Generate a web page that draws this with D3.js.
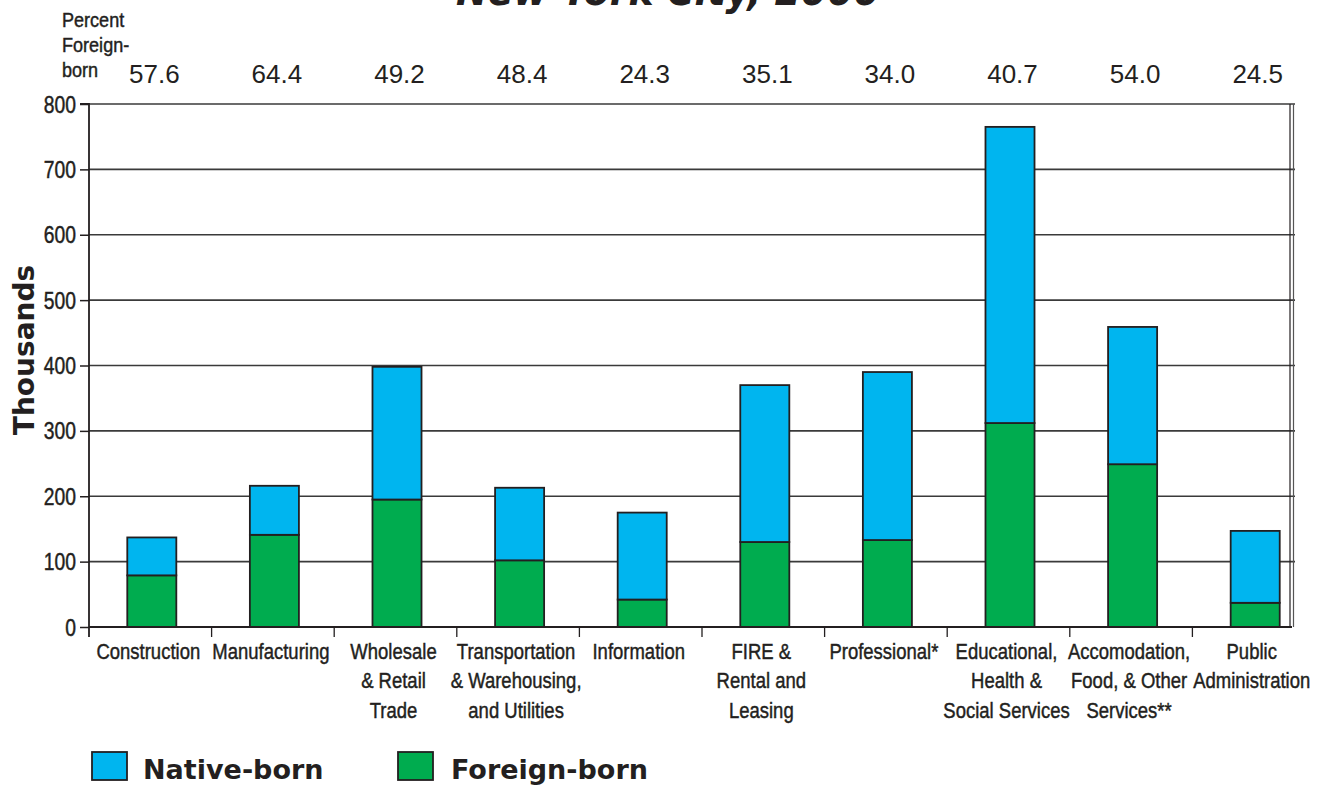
<!DOCTYPE html>
<html><head><meta charset="utf-8">
<script src="https://cdn.jsdelivr.net/npm/d3@7"></script>
<style>
html,body{margin:0;padding:0;background:#fff;}
svg{display:block;}
.cond{font-family:"Liberation Sans",Arial,sans-serif;fill:#231f20;stroke:#231f20;stroke-width:0.45px;}
.heavy{font-family:"DejaVu Sans",sans-serif;font-weight:bold;fill:#231f20;}
</style></head>
<body>
<script>
const categories = ["Construction","Manufacturing","Wholesale\n& Retail\nTrade","Transportation\n& Warehousing,\nand Utilities","Information","FIRE &\nRental and\nLeasing","Professional*","Educational,\nHealth &\nSocial Services","Accomodation,\nFood, & Other\nServices**","Public\nAdministration"];
const pctForeign = ["57.6","64.4","49.2","48.4","24.3","35.1","34.0","40.7","54.0","24.5"];
const foreignBorn = [79,141,195,102,42,130,133,312,249,37];
const nativeBorn = [58,75,203,111,133,240,257,453,210,110];
const yTicks = [0,100,200,300,400,500,600,700,800];
const pctHeader = ["Percent","Foreign-","born"];
const seriesNames = ["Native-born","Foreign-born"];
const seriesColors = ["#00b5ef","#00ac4f"];
const titleText = "New York City, 2000";
const yTitle = "Thousands";

const W = 1336, H = 785;
const svg = d3.select("body").append("svg").attr("width", W).attr("height", H);

const pL = 89, pR = 1292, bandEnd = 1315, pT = 104, pB = 627;
const x = d3.scaleBand().domain(categories).range([pL, bandEnd]).paddingInner(0.6).paddingOuter(0.3);
const y = d3.scaleLinear().domain([0, 800]).range([pB, pT]);
const ink = "#231f20";
const SX = 0.86; // horizontal squeeze to mimic a condensed face

// title (partially cut off at top, as in the source)
svg.append("text").attr("x", 668).attr("y", 5).attr("text-anchor", "middle")
  .attr("font-family", "DejaVu Sans, sans-serif").attr("font-weight", "bold").attr("font-style", "italic")
  .attr("font-size", 40).attr("textLength", 424).attr("lengthAdjust", "spacingAndGlyphs")
  .attr("fill", ink).text(titleText);

// gridlines
const g = svg.append("g");
g.selectAll("line.grid").data(yTicks.filter(d => d > 0)).join("line")
  .attr("x1", pL).attr("x2", pR + 3).attr("y1", d => y(d)).attr("y2", d => y(d))
  .attr("stroke", "#3a3a3a").attr("stroke-width", 1.6);
// right double frame
g.append("line").attr("x1", pR - 2).attr("x2", pR - 2).attr("y1", pT).attr("y2", pB).attr("stroke", ink).attr("stroke-width", 1.2);
g.append("line").attr("x1", pR + 1.5).attr("x2", pR + 1.5).attr("y1", pT).attr("y2", pB).attr("stroke", "#555").attr("stroke-width", 1.2);

// stacked bars
const stackData = categories.map((c, i) => ({cat: c, "Native-born": nativeBorn[i], "Foreign-born": foreignBorn[i]}));
const stack = d3.stack().keys(["Foreign-born", "Native-born"])(stackData);
stack.forEach(layer => {
  const col = seriesColors[seriesNames.indexOf(layer.key)];
  g.selectAll(null).data(layer).join("rect")
    .attr("x", d => x(d.data.cat) + 1.5).attr("width", x.bandwidth())
    .attr("y", d => y(d[1])).attr("height", d => y(d[0]) - y(d[1]))
    .attr("fill", col).attr("stroke", ink).attr("stroke-width", 1.8);
});

// y axis
const yAxis = d3.axisLeft(y).tickValues(yTicks).tickSize(9).tickPadding(3).tickFormat(d3.format("d"));
const ya = svg.append("g").attr("transform", `translate(${pL},0)`).call(yAxis);
ya.select(".domain").attr("stroke", ink).attr("stroke-width", 1.8).attr("d", `M-9,${pT}H0V${pB + 10}`);
ya.selectAll(".tick line").attr("stroke", ink).attr("stroke-width", 1.5);
ya.selectAll(".tick text").attr("class", "cond").attr("font-size", 23).attr("fill", ink).attr("dy", "0.35em")
  .attr("x", -13 / 0.84).attr("transform", "scale(0.84,1)");

// x axis: baseline and boundary ticks
svg.append("line").attr("x1", pL).attr("x2", pR).attr("y1", pB).attr("y2", pB).attr("stroke", ink).attr("stroke-width", 2);
const step = x.step();
svg.selectAll("line.xt").data(categories.slice(1)).join("line")
  .attr("x1", d => x(d) - step * 0.3).attr("x2", d => x(d) - step * 0.3)
  .attr("y1", pB).attr("y2", pB + 10).attr("stroke", ink).attr("stroke-width", 1.3);

// x labels
const xl = svg.selectAll("text.xl").data(categories).join("text")
  .attr("class", "cond").attr("font-size", 21.5).attr("text-anchor", "middle")
  .attr("transform", d => `translate(${x(d) + x.bandwidth() / 2 - 2},0) scale(${SX},1)`);
xl.each(function(d) {
  d.split("\n").forEach((ln, k) => {
    d3.select(this).append("tspan").attr("x", 0).attr("y", 659 + k * 29.5).text(ln);
  });
});

// percent foreign-born header
svg.selectAll("text.ph").data(pctHeader).join("text")
  .attr("class", "cond").attr("font-size", 21)
  .attr("transform", `translate(62,0) scale(${SX},1)`)
  .attr("x", 0).attr("y", (d, i) => 27 + i * 25).text(d => d);
svg.selectAll("text.pv").data(categories).join("text")
  .attr("x", d => x(d) + x.bandwidth() / 2 + 4).attr("y", 83).attr("text-anchor", "middle")
  .attr("font-family", "Liberation Sans, Arial, sans-serif").attr("font-size", 26).attr("fill", ink)
  .text((d, i) => pctForeign[i]);

// y title
svg.append("text").attr("class", "heavy").attr("font-size", 28)
  .attr("transform", "translate(34,350) rotate(-90)").attr("text-anchor", "middle").text(yTitle);

// legend
const lg = svg.append("g");
const legX = [92, 398], textX = [143, 451];
seriesNames.forEach((s, i) => {
  lg.append("rect").attr("x", legX[i]).attr("y", 752).attr("width", 35).attr("height", 28)
    .attr("fill", seriesColors[i]).attr("stroke", ink).attr("stroke-width", 1.8);
  lg.append("text").attr("class", "heavy").attr("font-size", 27).attr("x", textX[i]).attr("y", 779).text(s);
});
</script>
</body></html>
